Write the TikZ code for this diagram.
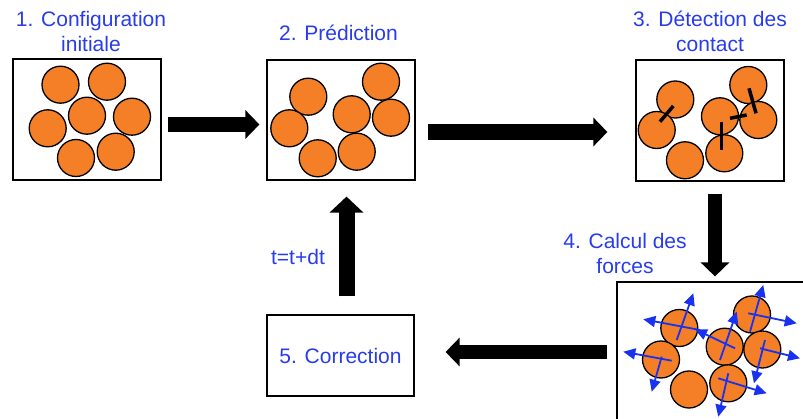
\documentclass[tikz,border=0pt]{standalone}
\usepackage{fontspec}
\setmainfont{Liberation Sans}
\usetikzlibrary{arrows.meta}
\definecolor{lblue}{RGB}{40,60,235}
\definecolor{ballc}{RGB}{244,127,38}
\definecolor{fblue}{RGB}{25,50,240}
\begin{document}
\begin{tikzpicture}[x=1pt,y=-1pt,
  panel/.style={draw=black, line width=1.2pt, fill=white, rectangle, inner sep=0pt},
  ball/.style={circle, draw=black, fill=ballc, line width=1.3pt, minimum size=37pt, inner sep=0pt},
  lbl/.style={text=lblue, font=\fontsize{21}{25}\selectfont, align=center, inner sep=0pt},
  bigarrow/.style={draw=black, line width=15pt, -{Triangle[width=28pt,length=14pt]}},
  contact/.style={draw=black, line width=3.5pt},
  force/.style={draw=fblue, line width=1.8pt, -{Triangle[width=11pt,length=12pt]}}
]
\clip (0,0) rectangle (803,419);
\fill[white] (0,0) rectangle (803,419);

% panels
\node[panel, minimum width=148pt, minimum height=121pt] (b1) at (87,119.5) {};
\node[panel, minimum width=148pt, minimum height=120pt] (b2) at (341,120) {};
\node[panel, minimum width=148pt, minimum height=121pt] (b3) at (710,120.5) {};
\node[panel, minimum width=193pt, minimum height=148pt] (b4) at (713.5,356) {};
\node[panel, minimum width=147pt, minimum height=81pt, text=lblue,
      font=\fontsize{21}{25}\selectfont] (b5) at (340.5,355.5) {5. Correction};

% labels
\node[lbl] (l1) at (91,31) {1. Configuration\\initiale};
\node[lbl] (l2) at (338.5,33) {2. Prédiction};
\node[lbl] (l3) at (710,31) {3. Détection des\\contact};
\node[lbl] (l4) at (625,253) {4. Calcul des\\forces};
\node[lbl] (l5) at (298,257) {t=t+dt};

% panel 1 balls
\node[ball] (p1a) at (60.5,84.7) {};
\node[ball] (p1b) at (107,81.7) {};
\node[ball] (p1c) at (87,115.7) {};
\node[ball] (p1d) at (132,116.7) {};
\node[ball] (p1e) at (47.7,128.3) {};
\node[ball] (p1f) at (76,158) {};
\node[ball] (p1g) at (115.7,151.7) {};

% panel 2 balls
\node[ball] (p2a) at (308.3,96.7) {};
\node[ball] (p2b) at (381,81.7) {};
\node[ball] (p2c) at (351.7,114.3) {};
\node[ball] (p2d) at (391,117.7) {};
\node[ball] (p2e) at (289.3,128.3) {};
\node[ball] (p2f) at (317.7,158.3) {};
\node[ball] (p2g) at (356.7,151.7) {};

% panel 3 balls
\node[ball] (p3a) at (675.3,99.5) {};
\node[ball] (p3b) at (656.7,130) {};
\node[ball] (p3c) at (685,160.3) {};
\node[ball] (p3d) at (720,116.3) {};
\node[ball] (p3e) at (724.3,153.3) {};
\node[ball] (p3f) at (748.3,85) {};
\node[ball] (p3g) at (758.3,120) {};
% contacts
\draw[contact] (673.3,106) -- (660,121.7);
\draw[contact] (721.7,121.7) -- (721.7,150);
\draw[contact] (730,118.3) -- (746.7,115);
\draw[contact] (749,88.3) -- (756,113.3);

% panel 4 balls
\node[ball] (p4a) at (679.3,328) {};
\node[ball] (p4b) at (661,359.5) {};
\node[ball] (p4c) at (689,389.5) {};
\node[ball] (p4d) at (724.7,346.7) {};
\node[ball] (p4e) at (752,314.5) {};
\node[ball] (p4f) at (762.3,349.5) {};
\node[ball] (p4g) at (728.3,383.3) {};
% forces
\draw[force] (700,330) -- (643.3,319.3);
\draw[force] (676.7,340) -- (693.3,293.3);
\draw[force] (735,348.3) -- (695,329.3);
\draw[force] (720,360) -- (736.7,311.7);
\draw[force] (671.7,360.7) -- (623.3,351.7);
\draw[force] (661.7,356.7) -- (651.7,391.7);
\draw[force] (750,331.7) -- (763.3,285);
\draw[force] (748.3,313.3) -- (796.7,323.3);
\draw[force] (760,348.3) -- (800,358.3);
\draw[force] (765,340) -- (754,383.3);
\draw[force] (718.3,378.3) -- (766.7,393.3);
\draw[force] (728.3,373.3) -- (718.3,416.7);

% big arrows
\draw[bigarrow, shorten <=6pt, shorten >=7pt] ([yshift=-5pt]b1.east) -- ([yshift=-5pt]b1.east -| b2.west);
\draw[bigarrow, line width=16pt, shorten <=12pt, shorten >=28pt] ([yshift=-12pt]b2.east) -- ([yshift=-12pt]b2.east -| b3.west);
\draw[bigarrow, line width=14pt, shorten <=12pt, shorten >=5pt] ([xshift=5pt]b3.south) -- ([xshift=5pt]b3.south |- b4.north);
\draw[bigarrow, line width=14pt, shorten <=9pt, shorten >=31pt] ([yshift=4pt]b4.west) -- ([yshift=4pt]b4.west -| b5.east);
\draw[bigarrow, line width=16pt, -{Triangle[width=33pt,length=16pt]}, shorten <=18pt, shorten >=16pt] ([xshift=6pt]b5.north) -- ([xshift=6pt]b5.north |- b2.south);
\end{tikzpicture}
\end{document}
